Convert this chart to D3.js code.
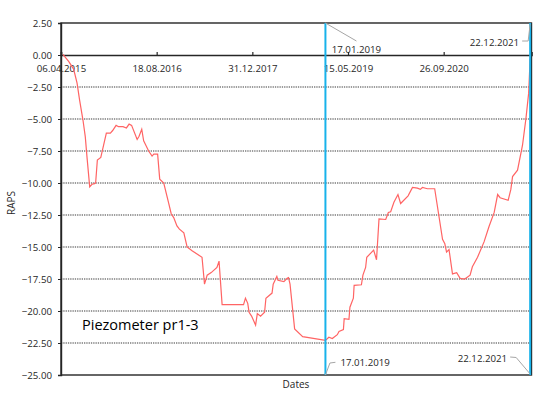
<!DOCTYPE html>
<html lang="en">
<head>
    <meta charset="UTF-8">
    <title>Piezometer pr1-3 RAPS</title>
    <script src="https://cdn.jsdelivr.net/npm/d3@7"></script>
    <style>
        body { margin: 0; background: #ffffff; }
        text { font-family: "Open Sans", sans-serif; fill: #262626; }
    </style>
</head>
<body>
<script>
    var dates = [
        "16.04.2015","16.05.2015","11.06.2015","29.06.2015","12.07.2015","30.07.2015","11.08.2015","20.08.2015",
        "03.09.2015","15.09.2015","29.09.2015","04.10.2015","13.10.2015","31.10.2015","29.11.2015","20.12.2015",
        "01.01.2016","19.01.2016","01.02.2016","24.02.2016","13.03.2016","27.03.2016","09.04.2016","08.05.2016",
        "18.05.2016","01.06.2016","11.06.2016","07.07.2016","25.07.2016","03.08.2016","23.08.2016","03.09.2016",
        "24.09.2016","20.10.2016","02.11.2016","15.11.2016","02.12.2016","15.12.2016",
        "07.01.2017","24.01.2017","19.02.2017","12.04.2017","25.04.2017","09.05.2017","30.05.2017","29.06.2017",
        "10.07.2017","26.07.2017","15.11.2017","25.11.2017","07.12.2017","14.12.2017","27.12.2017",
        "17.01.2018","26.01.2018","12.02.2018","05.03.2018","12.03.2018","13.04.2018","19.04.2018","08.05.2018",
        "14.05.2018","14.06.2018","01.07.2018","08.07.2018","16.07.2018","09.08.2018","20.09.2018",
        "17.01.2019","04.02.2019","22.02.2019","20.03.2019","29.03.2019","21.04.2019","25.04.2019","20.05.2019",
        "25.05.2019","12.06.2019","16.06.2019","24.07.2019","01.08.2019","15.08.2019","21.08.2019","26.09.2019",
        "11.10.2019","24.10.2019","28.11.2019","12.12.2019","24.12.2019",
        "10.01.2020","31.01.2020","14.02.2020","24.03.2020","16.04.2020","12.05.2020","27.05.2020","07.06.2020",
        "03.07.2020","10.08.2020","20.09.2020","02.10.2020","11.10.2020","24.10.2020","11.11.2020","03.12.2020",
        "21.12.2020",
        "14.01.2021","11.02.2021","23.02.2021","22.03.2021","25.04.2021","21.05.2021","17.06.2021","05.07.2021",
        "18.07.2021","29.08.2021","12.09.2021","21.09.2021","17.10.2021","12.11.2021","30.11.2021","14.12.2021",
        "22.12.2021"
    ];
    var raps = [
        0.05, -0.5, -1.1, -2.2, -3.5, -5.1, -6.4, -8.0,
        -10.3, -10.1, -10.05, -10.0, -8.2, -8.0, -6.1, -6.1,
        -5.9, -5.5, -5.6, -5.6, -5.7, -5.4, -5.5, -6.6,
        -6.35, -5.8, -6.7, -7.5, -7.9, -7.75, -7.75, -9.7,
        -10.0, -11.6, -12.4, -12.7, -13.35, -13.6,
        -13.9, -15.0, -15.3, -15.8, -17.9, -17.2, -17.0, -16.6,
        -16.1, -19.5, -19.5, -19.0, -19.4, -20.1, -20.4,
        -21.1, -20.2, -20.4, -20.1, -19.0, -18.6, -17.9, -17.3,
        -17.6, -17.7, -17.45, -17.4, -17.9, -21.4, -22.0,
        -22.3, -22.05, -22.15, -21.85, -21.6, -21.45, -20.6, -20.65,
        -19.7, -19.0, -18.0, -17.95, -17.2, -16.6, -15.8, -15.25,
        -16.0, -12.8, -12.85, -12.3, -12.25,
        -11.5, -10.9, -11.6, -11.0, -10.35, -10.4, -10.5, -10.35,
        -10.45, -10.45, -14.4, -14.75, -15.4, -15.2, -17.1, -17.0,
        -17.45,
        -17.5, -17.2, -16.55, -15.8, -14.6, -13.4, -12.3, -10.9,
        -11.15, -11.35, -10.5, -9.5, -9.0, -7.05, -4.95, -3.0,
        -0.3
    ];
    var xTickLabels = ["06.04.2015", "18.08.2016", "31.12.2017", "15.05.2019", "26.09.2020"];
    var yTicks = [2.5, 0, -2.5, -5, -7.5, -10, -12.5, -15, -17.5, -20, -22.5, -25];
    var markerDates = ["17.01.2019", "22.12.2021"];
    var xDomain = ["06.04.2015", "29.12.2021"];

    var parse = d3.timeParse("%d.%m.%Y");
    var fmt = d3.timeFormat("%d.%m.%Y");

    var widthSVG = 550, heightSVG = 398;
    var padding = {top: 23, bottom: 23, left: 61, right: 18.5};
    var w = widthSVG - padding.left - padding.right;
    var h = heightSVG - padding.top - padding.bottom;

    var svg = d3.select("body").append("svg")
        .attr("width", widthSVG)
        .attr("height", heightSVG);

    var g = svg.append("g")
        .attr("transform", "translate(" + padding.left + "," + padding.top + ")");

    var scaleX = d3.scaleTime()
        .domain(xDomain.map(parse))
        .range([0, w]);

    var scaleY = d3.scaleLinear()
        .domain([-25, 2.5])
        .range([h, 0]);

    // dotted grid lines
    g.append("g").selectAll("line")
        .data(yTicks.filter(function (d) { return d < 0 && d > -25; }))
        .enter()
        .append("line")
        .attr("x1", 0)
        .attr("x2", w)
        .attr("y1", function (d) { return scaleY(d); })
        .attr("y2", function (d) { return scaleY(d); })
        .attr("stroke", "#3a3a3a")
        .attr("stroke-width", 1.1)
        .attr("stroke-dasharray", "1.3,1");

    // y axis
    var axisY = d3.axisLeft(scaleY)
        .tickValues(yTicks)
        .tickFormat(d3.format(".2f"))
        .tickSize(3)
        .tickPadding(6);
    var gy = g.append("g").call(axisY);
    gy.select(".domain").attr("stroke", "#262626").attr("stroke-width", 1.4);
    gy.selectAll(".tick line").attr("stroke", "#262626");
    gy.selectAll("text").style("font-size", "9.7px").style("font-family", "'Open Sans', sans-serif");

    // frame (top / right / bottom)
    g.append("rect")
        .attr("x", 0).attr("y", 0)
        .attr("width", w).attr("height", h)
        .attr("fill", "none")
        .attr("stroke", "#262626")
        .attr("stroke-width", 1.4);

    // x axis on the zero line, labels below it
    var axisX = d3.axisTop(scaleX)
        .tickValues(xTickLabels.map(parse))
        .tickFormat(fmt)
        .tickSize(3);
    var gx = g.append("g")
        .attr("transform", "translate(0," + scaleY(0) + ")")
        .call(axisX);
    gx.select(".domain").attr("stroke", "#262626").attr("stroke-width", 1.6);
    gx.selectAll(".tick line").attr("stroke", "#262626").attr("stroke-width", 1.2);
    gx.selectAll("text")
        .attr("y", 10)
        .attr("dy", "0.71em")
        .style("font-size", "9.7px")
        .style("font-family", "'Open Sans', sans-serif");

    // series line
    var points = dates.map(function (d, i) { return {date: parse(d), value: raps[i]}; });
    var line = d3.line()
        .x(function (d) { return scaleX(d.date); })
        .y(function (d) { return scaleY(d.value); });
    g.append("path")
        .datum(points)
        .attr("d", line)
        .attr("fill", "none")
        .attr("stroke", "#ff6464")
        .attr("stroke-width", 1.2);

    // vertical marker lines
    g.selectAll(".marker")
        .data(markerDates)
        .enter()
        .append("line")
        .attr("class", "marker")
        .attr("x1", function (d) { return scaleX(parse(d)); })
        .attr("x2", function (d) { return scaleX(parse(d)); })
        .attr("y1", 0)
        .attr("y2", h)
        .attr("stroke", "#18b2ea")
        .attr("stroke-width", 2);

    // marker labels with leader lines
    var xa = scaleX(parse(markerDates[0]));
    var xb = scaleX(parse(markerDates[1]));
    var leaders = [
        [[xa, 0], [xa + 31, 18]],
        [[xb - 8, 18], [xb - 2, 18], [xb, 1]],
        [[xa, h], [xa + 4.5, h - 12], [xa + 10, h - 12.7]],
        [[xb - 20, h - 18], [xb - 14, h - 17.5], [xb, h - 1]]
    ];
    g.selectAll(".leader")
        .data(leaders)
        .enter()
        .append("path")
        .attr("class", "leader")
        .attr("d", d3.line())
        .attr("fill", "none")
        .attr("stroke", "#a6a6a6")
        .attr("stroke-width", 1);

    var labels = [
        {text: markerDates[0], x: xa + 31, y: 29.5, anchor: "middle"},
        {text: markerDates[1], x: xb - 11, y: 22.5, anchor: "end"},
        {text: markerDates[0], x: xa + 15, y: h - 9, anchor: "start"},
        {text: markerDates[1], x: xb - 23, y: h - 13.5, anchor: "end"}
    ];
    g.selectAll(".mlabel")
        .data(labels)
        .enter()
        .append("text")
        .attr("class", "mlabel")
        .attr("x", function (d) { return d.x; })
        .attr("y", function (d) { return d.y; })
        .attr("text-anchor", function (d) { return d.anchor; })
        .style("font-size", "9.7px")
        .text(function (d) { return d.text; });

    // chart caption inside the plot
    g.append("text")
        .attr("x", 21)
        .attr("y", 306.5)
        .style("font-size", "14.5px")
        .style("fill", "#000")
        .text("Piezometer pr1-3");

    // axis titles
    svg.append("text")
        .attr("transform", "translate(15,203) rotate(-90)")
        .attr("text-anchor", "middle")
        .style("font-size", "10px")
        .text("RAPS");
    svg.append("text")
        .attr("x", 296)
        .attr("y", 388)
        .attr("text-anchor", "middle")
        .style("font-size", "10px")
        .text("Dates");
</script>
</body>
</html>
